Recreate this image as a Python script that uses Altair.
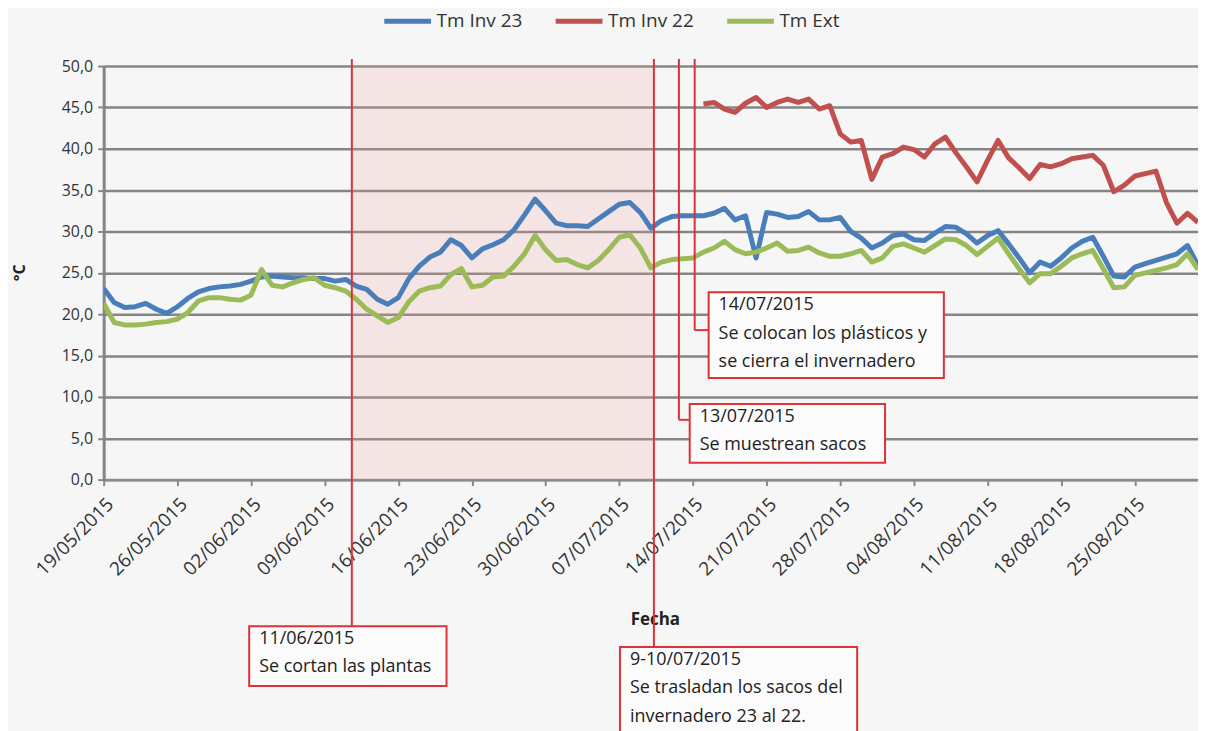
import altair as alt
import pandas as pd

# ---------------- data ----------------
start = "2015-05-19"
n_days = 105
fechas = pd.date_range(start, periods=n_days, freq="D")

tm_inv_23 = [23.1, 21.4, 20.8, 20.9, 21.3, 20.6, 20.1, 20.9, 21.9, 22.7,
             23.1, 23.3, 23.4, 23.6, 24.0, 24.5, 24.6, 24.5, 24.4, 24.4,
             24.3, 24.3, 24.0, 24.2, 23.4, 23.0, 21.8, 21.2, 22.0, 24.3,
             25.8, 26.9, 27.5, 29.0, 28.3, 26.8, 27.9, 28.4, 29.0, 30.2,
             32.0, 33.9, 32.5, 31.0, 30.7, 30.7, 30.6, 31.5, 32.4, 33.3,
             33.5, 32.3, 30.4, 31.3, 31.8, 31.9, 31.9, 31.9, 32.2, 32.8,
             31.4, 31.9, 26.8, 32.3, 32.1, 31.7, 31.8, 32.4, 31.4, 31.4,
             31.7, 30.0, 29.2, 28.0, 28.6, 29.5, 29.7, 29.0, 28.9, 29.8,
             30.6, 30.5, 29.7, 28.6, 29.5, 30.1, 28.5, 26.8, 25.0, 26.3,
             25.8, 26.8, 28.0, 28.8, 29.3, 27.0, 24.6, 24.5, 25.7, 26.1,
             26.5, 26.9, 27.3, 28.3, 25.9]

tm_inv_22 = [None] * 57 + [
             45.4, 45.6, 44.8, 44.4, 45.5, 46.2, 45.0, 45.6, 46.0, 45.6,
             46.0, 44.8, 45.2, 41.8, 40.8, 41.0, 36.3, 39.0, 39.4, 40.2,
             39.9, 39.0, 40.6, 41.4, 39.5, 37.8, 36.0, 38.6, 41.0, 38.9,
             37.7, 36.4, 38.1, 37.8, 38.2, 38.8, 39.0, 39.2, 38.0, 34.8,
             35.6, 36.7, 37.0, 37.3, 33.5, 31.0, 32.2, 31.1]

tm_ext = [21.3, 19.0, 18.7, 18.7, 18.8, 19.0, 19.1, 19.4, 20.2, 21.6,
          22.0, 22.0, 21.8, 21.7, 22.3, 25.4, 23.5, 23.3, 23.8, 24.2,
          24.4, 23.5, 23.2, 22.8, 21.8, 20.6, 19.8, 19.0, 19.6, 21.5,
          22.8, 23.2, 23.4, 24.8, 25.5, 23.3, 23.5, 24.5, 24.6, 25.8,
          27.3, 29.5, 27.8, 26.5, 26.6, 26.0, 25.6, 26.5, 27.8, 29.3,
          29.6, 28.0, 25.6, 26.3, 26.6, 26.7, 26.8, 27.5, 28.0, 28.8,
          27.8, 27.3, 27.5, 28.0, 28.6, 27.6, 27.7, 28.1, 27.4, 27.0,
          27.0, 27.3, 27.7, 26.3, 26.8, 28.2, 28.5, 28.0, 27.5, 28.3,
          29.1, 29.0, 28.3, 27.2, 28.2, 29.2, 27.3, 25.5, 23.8, 24.9,
          24.9, 25.8, 26.8, 27.3, 27.7, 25.5, 23.2, 23.3, 24.7, 25.0,
          25.3, 25.6, 26.0, 27.3, 25.4]

series_names = ["Tm Inv 23", "Tm Inv 22", "Tm Ext"]
series_colors = ["#4a7ebb", "#c0504d", "#9bbb59"]

tick_dates = ["2015-05-19", "2015-05-26", "2015-06-02", "2015-06-09", "2015-06-16",
              "2015-06-23", "2015-06-30", "2015-07-07", "2015-07-14", "2015-07-21",
              "2015-07-28", "2015-08-04", "2015-08-11", "2015-08-18", "2015-08-25"]
y_ticks = [0, 5, 10, 15, 20, 25, 30, 35, 40, 45, 50]

# events (vertical red lines)
event_dates = ["2015-06-11 14:00", "2015-07-10 07:00", "2015-07-12 16:00", "2015-07-14 04:00"]
event_texts = [["11/06/2015", "Se cortan las plantas"],
               ["9-10/07/2015", "Se trasladan los sacos del", "invernadero 23 al 22."],
               ["13/07/2015", "Se muestrean sacos"],
               ["14/07/2015", "Se colocan los plásticos y", "se cierra el invernadero"]]

# ---------------- build ----------------
rows = []
for name, vals in zip(series_names, [tm_inv_23, tm_inv_22, tm_ext]):
    for f, v in zip(fechas, vals):
        if v is not None:
            rows.append({"fecha": f, "serie": name, "valor": v})
df = pd.DataFrame(rows)

FONT = "Open Sans"
RED = "#dc3238"
W, H = 1098, 415

def dt(s):
    t = pd.Timestamp(s)
    return alt.DateTime(year=t.year, month=t.month, date=t.day)

xscale = alt.Scale(domain=[dt("2015-05-19"), dt("2015-08-31")])
yscale = alt.Scale(domain=[0, 50], nice=False)

x_axis = alt.Axis(values=[dt(d) for d in tick_dates], format="%d/%m/%Y", labelAngle=-45,
                  labelFontSize=19, labelColor="#333333", labelPadding=9,
                  labelOverlap=False, labelBound=False, labelFlush=False,
                  grid=False, domainColor="#8a8a8a", domainWidth=3,
                  tickColor="#8a8a8a", tickWidth=2, tickSize=6,
                  title="Fecha", titleX=553, titleY=140, titleFontSize=17,
                  titleFontWeight="bold", titleColor="#222222", titleBaseline="middle")
y_axis = alt.Axis(values=y_ticks, labelExpr="replace(format(datum.value, '.1f'), '.', ',')",
                  labelFontSize=16, labelColor="#333333", labelPadding=5,
                  labelOverlap=False,
                  grid=True, gridColor="#858585", gridWidth=2.5,
                  domainColor="#858585", domainWidth=3,
                  tickColor="#858585", tickWidth=2, tickSize=6,
                  title="°C", titleX=-84, titleY=207, titleFontSize=16,
                  titleFontWeight="bold", titleColor="#222222", titleBaseline="middle")

ev = pd.DataFrame({"fecha": pd.to_datetime(event_dates)})

shade_df = pd.DataFrame({"ini": [ev.fecha[0]], "fin": [ev.fecha[1]]})
shade = alt.Chart(shade_df).mark_rect(fill="#f0a0a0", opacity=0.2).encode(
    x=alt.X("ini:T", scale=xscale, axis=x_axis),
    x2="fin:T",
    y=alt.value(0), y2=alt.value(H))

lines = alt.Chart(df).mark_line(strokeWidth=5, clip=True, strokeJoin="round").encode(
    x=alt.X("fecha:T", scale=xscale, axis=x_axis),
    y=alt.Y("valor:Q", scale=yscale, axis=y_axis),
    color=alt.Color("serie:N", scale=alt.Scale(domain=series_names, range=series_colors),
                    sort=series_names,
                    legend=alt.Legend(orient="none", legendX=279, legendY=-71,
                                      direction="horizontal", title=None,
                                      symbolType="stroke", symbolStrokeWidth=5,
                                      symbolSize=2200, labelFontSize=19,
                                      labelColor="#333333", labelOffset=3,
                                      columnPadding=22)),
    order=alt.Order("serie:N"))

layers = [shade, lines]

# rule end points (px, inside the chart's own coordinate frame) and boxes
rule_ends = [562, 583, 355, 265]
boxes = [(146, 344, 562, 622), (518, 756, 583, 690), (588, 784, 339, 398), (607, 843, 227, 313)]
connect = [None, None, 588, 607]

for i in range(4):
    one = ev.iloc[[i]]
    layers.append(alt.Chart(one).mark_rule(color=RED, strokeWidth=2).encode(
        x=alt.X("fecha:T", scale=xscale), y=alt.value(-7), y2=alt.value(rule_ends[i])))
    if connect[i] is not None:
        layers.append(alt.Chart(one).mark_rule(color=RED, strokeWidth=2).encode(
            x=alt.X("fecha:T", scale=xscale), x2=alt.value(connect[i]),
            y=alt.value(rule_ends[i])))
    x0, x1, y0, y1 = boxes[i]
    layers.append(alt.Chart(one).mark_rect(fill="#fbfbfb", stroke=RED, strokeWidth=2).encode(
        x=alt.value(x0), x2=alt.value(x1), y=alt.value(y0), y2=alt.value(y1)))
    for k, t in enumerate(event_texts[i]):
        layers.append(alt.Chart(one).mark_text(align="left", baseline="middle", fontSize=18,
                                               font=FONT, color="#222222").encode(
            x=alt.value(x0 + 10), y=alt.value(y0 + 13 + 28.5 * k), text=alt.value(t)))

chart = alt.layer(*layers).properties(
    width=W, height=H,
    autosize=alt.AutoSizeParams(type="none"),
    padding={"left": 96, "top": 57, "right": 0, "bottom": 251},
    background="#f6f6f6",
).configure(font=FONT).configure_view(strokeWidth=0)

chart.save("out.html", embed_options={"renderer": "svg", "actions": False})
